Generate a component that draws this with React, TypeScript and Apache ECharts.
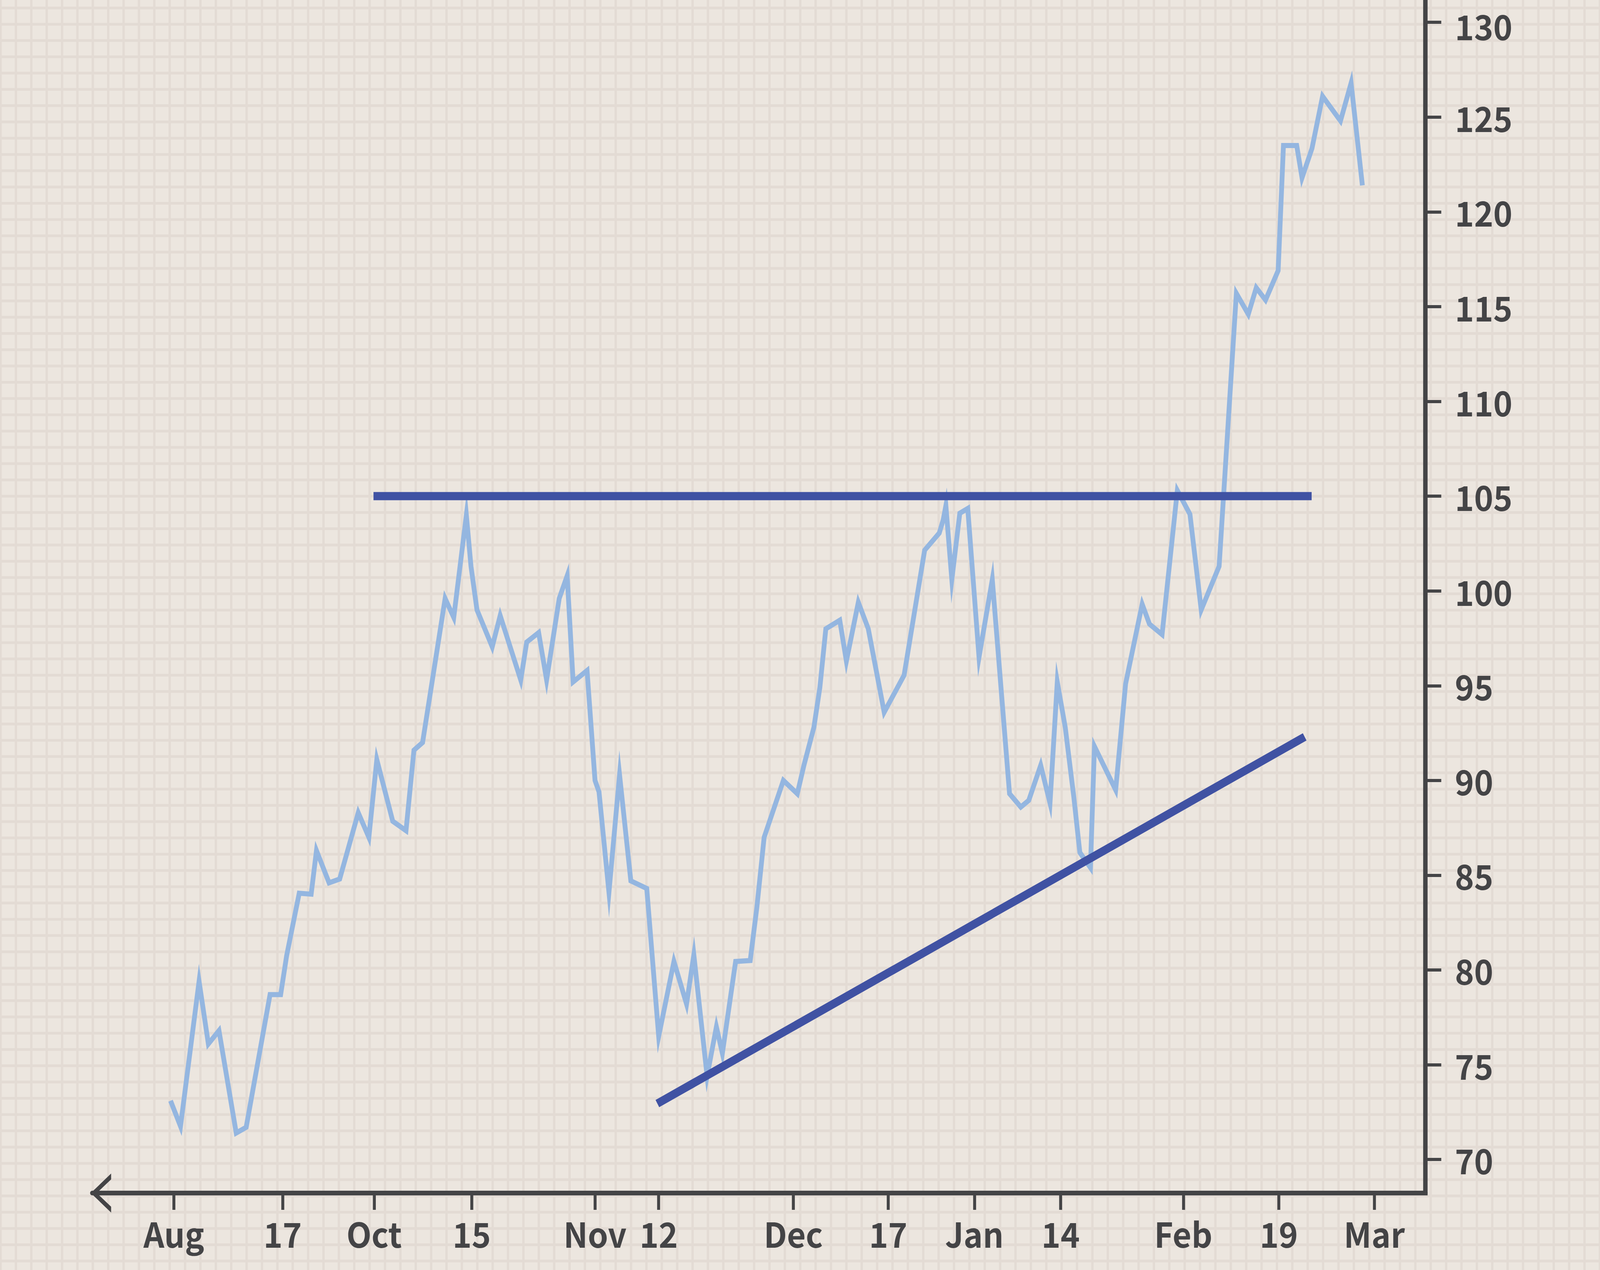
import { useRef, useEffect } from "react";
import * as echarts from "echarts";

// x values are day offsets from the first ("Aug") tick
const tickDays = [0, 16.4, 30.2, 44.9, 63.5, 73.1, 93.4, 107.7, 120.7, 133.7, 152.2, 166.6, 181.0];
const tickLabels = ["Aug", "17", "Oct", "15", "Nov", "12", "Dec", "17", "Jan", "14", "Feb", "19", "Mar"];
const yTicks = [70, 75, 80, 85, 90, 95, 100, 105, 110, 115, 120, 125, 130];

const priceDays = [
    -0.5, 1.0, 3.8, 5.2, 6.8, 9.4, 10.9, 14.5, 16.1, 17.0,
    18.9, 20.7, 21.5, 23.4, 25.0, 27.8, 29.4, 30.6, 33.0, 35.0,
    36.2, 37.5, 40.9, 42.2, 44.1, 44.8, 45.7, 48.0, 49.2, 52.3,
    53.2, 55.0, 56.2, 58.1, 59.3, 60.2, 62.3, 63.5, 64.1, 65.6,
    67.2, 68.9, 71.3, 73.1, 75.4, 77.3, 78.4, 80.4, 81.8, 82.7,
    84.7, 86.9, 87.9, 89.0, 91.9, 94.0, 95.0, 96.5, 97.4, 98.3, 100.4,
    101.4, 103.2, 104.7, 107.1, 110.1, 113.2, 115.4, 116.0, 116.4, 117.3,
    118.5, 119.7, 121.4, 123.4, 126.0, 127.7, 128.9, 130.7, 132.1, 133.2,
    134.4, 135.7, 136.6, 138.2, 138.8, 142.0, 143.5, 146.0, 147.1, 149.0,
    151.3, 153.2, 154.9, 157.6, 160.2, 162.0, 163.2, 164.6, 166.5, 167.3,
    169.3, 170.1, 171.6, 173.2, 175.9, 177.5, 179.2,
];
const priceValues = [
    73.1, 71.75, 79.4, 76.1, 76.8, 71.4, 71.7, 78.7, 78.7, 80.75,
    84.05, 84.0, 86.3, 84.6, 84.8, 88.3, 87.0, 91.1, 87.85, 87.35,
    91.6, 92.0, 99.6, 98.6, 104.0, 101.3, 99.0, 97.05, 98.7, 95.3,
    97.3, 97.8, 95.3, 99.6, 100.8, 95.2, 95.8, 90.0, 89.4, 84.1,
    90.3, 84.7, 84.3, 76.5, 80.45, 78.2, 80.8, 74.4, 77.0, 75.6,
    80.45, 80.5, 83.3, 87.0, 90.0, 89.3, 90.8, 92.8, 94.9, 98.0, 98.45,
    96.3, 99.4, 98.0, 93.6, 95.55, 102.15, 103.05, 103.75, 104.5, 100.6,
    104.1, 104.35, 96.5, 100.6, 89.3, 88.6, 88.95, 90.8, 88.8, 95.2,
    92.8, 89.1, 86.2, 85.4, 91.8, 89.5, 95.1, 99.3, 98.25, 97.7,
    105.3, 104.05, 99.0, 101.3, 115.7, 114.6, 116.0, 115.35, 116.9, 123.5,
    123.5, 121.8, 123.35, 126.1, 124.8, 126.8, 121.4,
];

// resistance and rising support trend lines
const resistanceDays = [30.1, 171.55];
const resistanceValues = [105, 105];
const supportDays = [72.9, 170.5];
const supportValues = [72.95, 92.3];

const AXIS_COLOR = "#444446";
const TREND_COLOR = "#4052a3";
const PRICE_COLOR = "#94b6e0";
const FONT = '"Noto Sans CJK SC", "Noto Sans", sans-serif';
const CHEVRON = "path://M50 0 L100 55 L85 55 L50 16 L15 55 L0 55 Z";

// the layout is drawn in this frame and fitted to the window
const BASE_W = 4334;
const BASE_H = 3251;

const zip = (xs: number[], ys: number[]) => xs.map((x, i) => [x, ys[i]]);

function App() {
    const chartRef = useRef<HTMLDivElement | null>(null);
    const fitX = window.innerWidth / BASE_W;
    const fitY = window.innerHeight / BASE_H;

    useEffect(() => {
        if (!chartRef.current) return;
        const chart = echarts.init(chartRef.current, null, { renderer: "svg" });

        const labelStyle = {
            color: AXIS_COLOR,
            fontSize: 88,
            fontWeight: "bold",
            fontFamily: FONT,
        };
        const topLabel = yTicks[yTicks.length - 1];

        chart.setOption({
            animation: false,
            grid: { left: 250, right: 473, top: 0, bottom: 197, containLabel: false },
            xAxis: {
                type: "value",
                min: -12.3,
                max: 188.7,
                splitLine: { show: false },
                axisLine: {
                    onZero: false,
                    symbol: [CHEVRON, "none"],
                    symbolSize: [100, 55],
                    symbolOffset: [23.5, 0],
                    lineStyle: { color: AXIS_COLOR, width: 12 },
                },
                axisTick: {
                    customValues: tickDays,
                    length: 43,
                    lineStyle: { color: AXIS_COLOR, width: 8 },
                },
                axisLabel: {
                    ...labelStyle,
                    customValues: tickDays,
                    margin: 58,
                    formatter: (v: number) => {
                        const i = tickDays.findIndex((d) => Math.abs(d - v) < 1e-6);
                        return i >= 0 ? tickLabels[i] : "";
                    },
                },
            },
            yAxis: {
                type: "value",
                position: "right",
                min: 68.23,
                max: 131.18,
                splitLine: { show: false },
                axisLine: {
                    show: true,
                    onZero: false,
                    lineStyle: { color: AXIS_COLOR, width: 12, cap: "square" },
                },
                axisTick: {
                    show: true,
                    customValues: yTicks,
                    length: 43,
                    lineStyle: { color: AXIS_COLOR, width: 8 },
                },
                axisLabel: {
                    ...labelStyle,
                    customValues: yTicks,
                    margin: 80,
                    // nudge the top label a little so it stays inside the page
                    formatter: (v: number) => (v === topLabel ? `{top|${v}}` : `${v}`),
                    rich: {
                        top: { ...labelStyle, padding: [16, 0, 0, 0] },
                    },
                },
            },
            series: [
                {
                    type: "line",
                    data: zip(priceDays, priceValues),
                    showSymbol: false,
                    symbol: "none",
                    silent: true,
                    z: 2,
                    lineStyle: { color: PRICE_COLOR, width: 13, join: "miter", miterLimit: 12 },
                },
                {
                    type: "line",
                    data: zip(resistanceDays, resistanceValues),
                    showSymbol: false,
                    symbol: "none",
                    silent: true,
                    z: 3,
                    lineStyle: { color: TREND_COLOR, width: 21, cap: "butt" },
                },
                {
                    type: "line",
                    data: zip(supportDays, supportValues),
                    showSymbol: false,
                    symbol: "none",
                    silent: true,
                    z: 3,
                    lineStyle: { color: TREND_COLOR, width: 21, cap: "butt" },
                },
            ],
        });

        return () => chart.dispose();
    }, []);

    return (
        <div
            style={{
                position: "fixed",
                left: 0,
                top: 0,
                width: "100vw",
                height: "100vh",
                overflow: "hidden",
                backgroundColor: "#ece6df",
            }}
        >
            <div
                ref={chartRef}
                style={{
                    width: `${BASE_W}px`,
                    height: `${BASE_H}px`,
                    transform: `scale(${fitX}, ${fitY})`,
                    transformOrigin: "0 0",
                    backgroundColor: "#ece6df",
                    backgroundImage:
                        "linear-gradient(to right, #e3dbd4 6px, transparent 6px), linear-gradient(to bottom, #e3dbd4 7px, transparent 7px)",
                    backgroundSize: "41.67px 41.67px",
                    backgroundPosition: "40px 17px",
                }}
            />
        </div>
    );
}

export default App;
